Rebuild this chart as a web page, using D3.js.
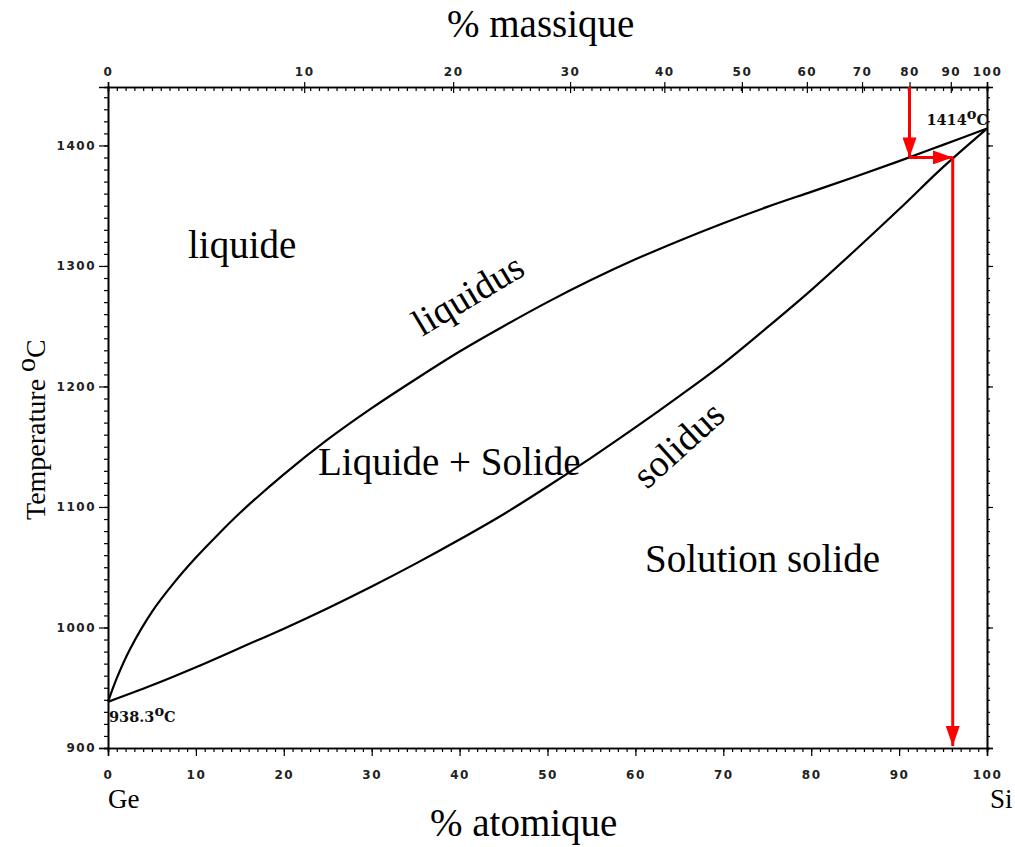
<!DOCTYPE html>
<html>
<head>
<meta charset="utf-8">
<script src="https://cdn.jsdelivr.net/npm/d3@7"></script>
<style>
  body { margin: 0; background: #fff; }
  svg { display: block; }
</style>
</head>
<body>
<script>
// ---- data ----
const atomicTicks = [0, 10, 20, 30, 40, 50, 60, 70, 80, 90, 100];
const massTicks = [0, 10, 20, 30, 40, 50, 60, 70, 80, 90, 100];
const tempTicks = [900, 1000, 1100, 1200, 1300, 1400];

// liquidus (at.% Si, °C)
const liqAt = [0, 1, 2.5, 5, 7.5, 10, 12.5, 15, 20, 25, 30, 35, 40, 45, 50, 55, 60, 65, 70, 75, 80, 85, 90, 95, 100];
const liqT  = [938.3, 958, 982, 1013, 1037, 1058, 1077, 1095, 1127, 1156, 1182, 1206, 1229, 1250, 1270, 1288.5, 1305.5, 1321, 1335.5, 1349, 1361.5, 1374, 1387, 1400.5, 1414];

// solidus (at.% Si, °C)
const solAt = [0, 5, 10, 15, 20, 25, 30, 35, 40, 45, 50, 55, 60, 65, 70, 75, 80, 85, 90, 95, 100];
const solT  = [938.3, 952, 967, 983, 999, 1016, 1034, 1053, 1073, 1094, 1117, 1141, 1166, 1192, 1219, 1249, 1280, 1313, 1347, 1382, 1414];

const meltGe = 938.3, meltSi = 1414;

// red construction: start at 80 wt.%, hit liquidus, go across to solidus, drop down
const startMass = 80;
const tieT = 1390;
const solidAt = 96.1;

const M_SI = 28.0855, M_GE = 72.63;
function massToAtomic(w) {
  const nSi = w / M_SI, nGe = (100 - w) / M_GE;
  return 100 * nSi / (nSi + nGe);
}

const width = 1015, height = 847;
const svg = d3.select('body').append('svg')
  .attr('width', width)
  .attr('height', height);

const x = d3.scaleLinear().domain([0, 100]).range([108, 987]);
const y = d3.scaleLinear().domain([900, 1448.5]).range([748, 87]);

// top axis is not linear: map mass ticks onto atomic positions
const xm = d3.scaleLinear()
  .domain(massTicks)
  .range(massTicks.map(w => x(massToAtomic(w))));

const tickFont = 'DejaVu Sans';

function styleAxis(g) {
  g.select('.domain').attr('stroke', '#000').attr('stroke-width', 1.6);
  g.selectAll('.tick line').attr('stroke', '#000').attr('stroke-width', 1.2);
  g.selectAll('text')
    .attr('font-family', tickFont)
    .attr('font-weight', 'bold')
    .attr('font-size', 12)
    .attr('letter-spacing', 1.5)
    .attr('fill', '#222');
}

// minor ticks first
svg.append('g').attr('transform', 'translate(0,748)')
  .call(d3.axisBottom(x).tickValues(d3.range(0, 101, 1)).tickSize(4).tickFormat(''))
  .call(styleAxis);
svg.append('g').attr('transform', 'translate(0,87)')
  .call(d3.axisTop(x).tickValues(d3.range(0, 101, 1)).tickSize(-4).tickFormat(''))
  .call(styleAxis);
svg.append('g').attr('transform', 'translate(108,0)')
  .call(d3.axisLeft(y).tickValues(d3.range(900, 1450, 10)).tickSize(4).tickFormat(''))
  .call(styleAxis);
svg.append('g').attr('transform', 'translate(987,0)')
  .call(d3.axisRight(y).tickValues(d3.range(900, 1450, 10)).tickSize(3).tickFormat(''))
  .call(styleAxis);

// major ticks with labels
svg.append('g').attr('transform', 'translate(0,748)')
  .call(d3.axisBottom(x).tickValues(atomicTicks).tickSize(8).tickPadding(14))
  .call(styleAxis);

const topAxis = svg.append('g').attr('transform', 'translate(0,87)')
  .call(d3.axisTop(xm).tickValues(massTicks).tickSize(5).tickPadding(6))
  .call(styleAxis);
topAxis.selectAll('.tick line').attr('y1', 6);

svg.append('g').attr('transform', 'translate(108,0)')
  .call(d3.axisLeft(y).tickValues(tempTicks).tickSize(9).tickPadding(3).tickFormat(d3.format('d')))
  .call(styleAxis);
svg.append('g').attr('transform', 'translate(987,0)')
  .call(d3.axisRight(y).tickValues(tempTicks).tickSize(6).tickFormat(''))
  .call(styleAxis);

// curves
const line = d3.line()
  .x(d => x(d[0]))
  .y(d => y(d[1]))
  .curve(d3.curveCatmullRom.alpha(0.5));

svg.append('path')
  .datum(d3.zip(liqAt, liqT))
  .attr('d', line)
  .attr('fill', 'none')
  .attr('stroke', '#000')
  .attr('stroke-width', 2.2);

svg.append('path')
  .datum(d3.zip(solAt, solT))
  .attr('d', line)
  .attr('fill', 'none')
  .attr('stroke', '#000')
  .attr('stroke-width', 2.2);

// red arrows
svg.append('defs').append('marker')
  .attr('id', 'head')
  .attr('viewBox', '0 0 20 14')
  .attr('refX', 20).attr('refY', 7)
  .attr('markerWidth', 20).attr('markerHeight', 14)
  .attr('markerUnits', 'userSpaceOnUse')
  .attr('orient', 'auto')
  .append('path')
  .attr('d', 'M0,0 L20,7 L0,14 Z')
  .attr('fill', 'red');

const startAt = massToAtomic(startMass);
const arrows = [
  [[startAt, 1448.5], [startAt, tieT]],
  [[startAt, tieT], [solidAt, tieT]],
  [[solidAt, tieT], [solidAt, 900]]
];
svg.append('g').selectAll('line')
  .data(arrows)
  .enter()
  .append('line')
    .attr('x1', d => x(d[0][0]))
    .attr('y1', d => y(d[0][1]))
    .attr('x2', d => x(d[1][0]))
    .attr('y2', d => y(d[1][1]) + (d[1][1] === 900 ? -2 : 0))
    .attr('stroke', 'red')
    .attr('stroke-width', 3)
    .attr('marker-end', 'url(#head)');

// melting point labels
function degLabel(xp, yp, value, anchor) {
  const t = svg.append('text')
    .attr('x', xp).attr('y', yp)
    .attr('text-anchor', anchor)
    .attr('font-family', 'DejaVu Serif')
    .attr('font-weight', 'bold')
    .attr('font-size', 14.5)
    .attr('fill', '#111');
  t.append('tspan').text(value);
  t.append('tspan').attr('dy', -6).text('o');
  t.append('tspan').attr('dy', 6).text('C');
}
degLabel(x(0) + 1, y(meltGe) + 20, '938.3', 'start');
degLabel(x(100) + 1, y(meltSi) - 4, '1414', 'end');

// text labels
const serif = 'Liberation Serif';
function label(txt, xp, yp, size, rot) {
  svg.append('text')
    .attr('transform', 'translate(' + xp + ',' + yp + ')' + (rot ? ' rotate(' + rot + ')' : ''))
    .attr('font-family', serif)
    .attr('font-size', size)
    .attr('fill', '#000')
    .text(txt);
}
label('% massique', 447, 37, 39);
label('% atomique', 430, 836, 39);
label('Ge', 108, 808, 27);
label('Si', 990, 808, 27);
label('liquide', 188, 258, 39);
label('Liquide + Solide', 318, 475, 39);
label('Solution solide', 645, 572, 39);
label('liquidus', 422, 337, 38, -31);
label('solidus', 647, 490, 38, -42);

// y title
const yt = svg.append('text')
  .attr('transform', 'translate(45,520) rotate(-90)')
  .attr('font-family', serif)
  .attr('font-size', 28)
  .attr('fill', '#000');
yt.append('tspan').text('Temperature ');
yt.append('tspan').attr('dy', -10).text('o');
yt.append('tspan').attr('dy', 10).text('C');
</script>
</body>
</html>
